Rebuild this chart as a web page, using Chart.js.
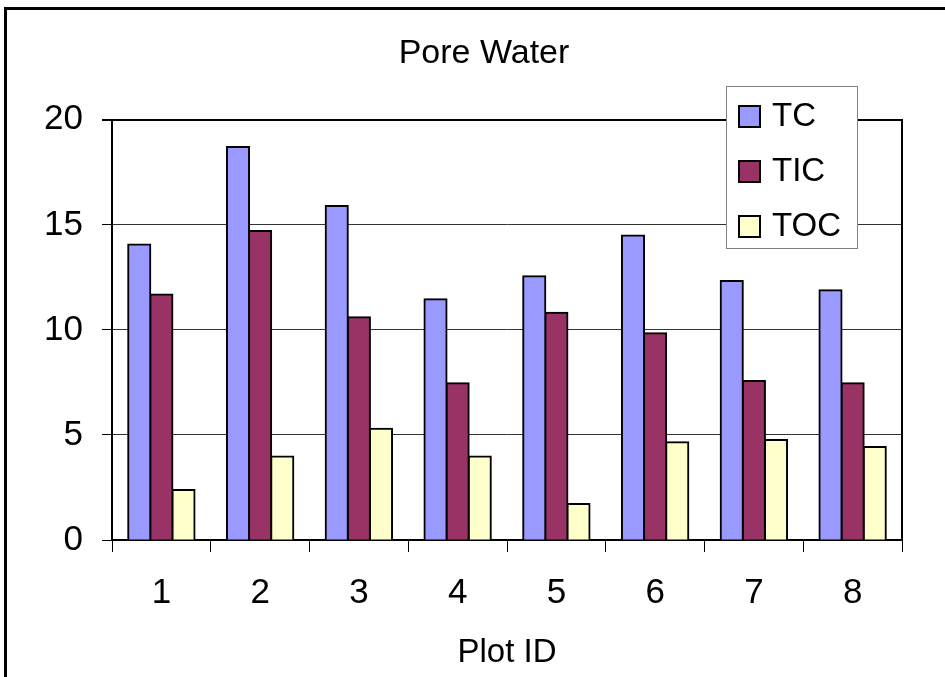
<!DOCTYPE html>
<html>
<head>
<meta charset="utf-8">
<title>Pore Water</title>
<script src="https://cdn.jsdelivr.net/npm/chart.js@4.4.1/dist/chart.umd.min.js"></script>
<style>
  html, body { margin: 0; padding: 0; background: #fff; }
  canvas { display: block; }
</style>
</head>
<body>
<canvas id="chart" width="945" height="677"></canvas>
<script>
const plotIds = ['1', '2', '3', '4', '5', '6', '7', '8']
const tcValues = [14.06, 18.71, 15.9, 11.46, 12.55, 14.49, 12.33, 11.89]
const ticValues = [11.68, 14.71, 10.6, 7.46, 10.82, 9.84, 7.57, 7.46]
const tocValues = [2.38, 3.98, 5.29, 3.98, 1.71, 4.65, 4.76, 4.43]
const yTicks = [0, 5, 10, 15, 20]

const FONT = 'Liberation Sans, Arial, sans-serif'

// outer frame of the chart, like the excel chart border
const framePlugin = {
  id: 'frame',
  beforeDraw(chart) {
    const ctx = chart.ctx
    ctx.save()
    ctx.fillStyle = '#fff'
    ctx.fillRect(0, 0, chart.width, chart.height)
    ctx.strokeStyle = '#000'
    ctx.lineWidth = 3
    ctx.strokeRect(5.5, 8.5, 1200, 1200)
    ctx.restore()
  }
}

// legend box sitting over the top right of the plot
const boxLegend = {
  id: 'boxLegend',
  afterDraw(chart) {
    const ctx = chart.ctx
    ctx.save()
    ctx.fillStyle = '#fff'
    ctx.fillRect(726, 86, 132, 163)
    ctx.strokeStyle = '#808080'
    ctx.lineWidth = 1
    ctx.strokeRect(726.5, 86.5, 131, 162)

    ctx.font = '33px ' + FONT
    ctx.textBaseline = 'middle'
    ctx.textAlign = 'left'
    chart.data.datasets.forEach((ds, i) => {
      const cy = 116 + i * 55
      ctx.fillStyle = ds.backgroundColor
      ctx.fillRect(739, cy - 10, 21, 21)
      ctx.strokeStyle = '#000'
      ctx.lineWidth = 2
      ctx.strokeRect(739, cy - 10, 21, 21)
      ctx.fillStyle = '#000'
      ctx.fillText(ds.label, 772, cy + 1)
    })
    ctx.restore()
  }
}

const ctx = document.getElementById('chart').getContext('2d')
new Chart(ctx, {
  type: 'bar',
  data: {
    labels: plotIds,
    datasets: [
      { label: 'TC', data: tcValues, backgroundColor: '#9999FF' },
      { label: 'TIC', data: ticValues, backgroundColor: '#993366' },
      { label: 'TOC', data: tocValues, backgroundColor: '#FFFFCC' }
    ]
  },
  options: {
    responsive: false,
    animation: false,
    layout: { padding: { left: 23, right: 0, top: 0, bottom: 0 } },
    datasets: {
      bar: {
        borderColor: '#000',
        borderWidth: 2,
        inflateAmount: 1,
        categoryPercentage: 0.672,
        barPercentage: 1
      }
    },
    plugins: {
      legend: { display: false },
      tooltip: { enabled: false },
      title: {
        display: true,
        text: 'Pore Water',
        color: '#000',
        font: { family: FONT, size: 34, weight: 'normal' },
        padding: { top: 33, bottom: 46 }
      }
    },
    scales: {
      x: {
        grid: {
          offset: true,
          drawOnChartArea: false,
          drawTicks: true,
          tickLength: 12,
          tickColor: '#000',
          lineWidth: 1
        },
        border: { color: '#000', width: 2 },
        ticks: {
          color: '#000',
          font: { family: FONT, size: 35 },
          padding: 20,
          maxRotation: 0
        },
        title: {
          display: true,
          text: 'Plot ID',
          color: '#000',
          font: { family: FONT, size: 33 },
          padding: { top: 10, bottom: 4 }
        },
        afterFit(scale) { scale.height = 137 }
      },
      y: {
        min: 0,
        max: 20,
        afterBuildTicks(scale) {
          scale.ticks = yTicks.map(v => ({ value: v }))
        },
        grid: {
          color: c => (c.tick && c.tick.value === 20 ? '#000' : '#333'),
          lineWidth: c => (c.tick && c.tick.value === 20 ? 2 : 1),
          tickLength: 10,
          tickColor: '#000'
        },
        border: { color: '#000', width: 2 },
        ticks: {
          color: '#000',
          font: { family: FONT, size: 35 },
          padding: 19
        },
        afterFit(scale) { scale.width = 89 }
      },
      y2: {
        position: 'right',
        min: 0,
        max: 20,
        grid: { drawOnChartArea: false, drawTicks: false },
        border: { display: true, color: '#000', width: 2 },
        ticks: { display: false },
        afterFit(scale) { scale.width = 43 }
      }
    }
  },
  plugins: [framePlugin, boxLegend]
})
</script>
</body>
</html>
